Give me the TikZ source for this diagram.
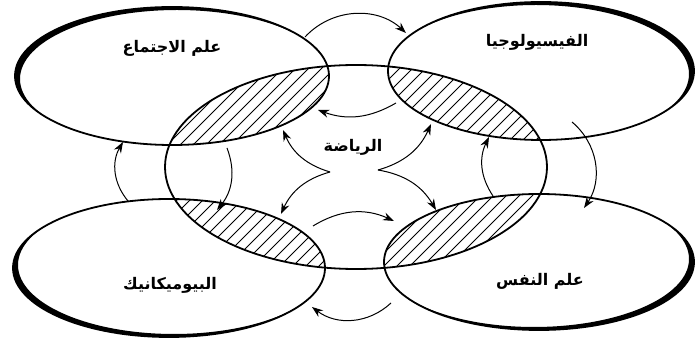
\documentclass[tikz,border=0pt]{standalone}
\usepackage{fontspec}
\newfontfamily\arabicfont[Script=Arabic]{DejaVu Sans}
\TeXXeTstate=1
\usetikzlibrary{arrows.meta}
\tikzset{
  campo/.style={line width=1.8pt},
  sombra/.style={fill=black, even odd rule},
  rayado/.style={line width=0.9pt},
  flecha/.style={line width=1pt, -{Stealth[length=11pt, width=8pt]}},
  etiqueta/.style={font=\arabicfont\bfseries\fontsize{16}{18}\selectfont}
}

\begin{document}
\begin{tikzpicture}[x=1pt, y=-1pt]
  \useasboundingbox (0,0) rectangle (696,344);

  % Sombras de los campos
  \foreach \cx/\cy/\rx/\ry/\dx/\dy in {172/76/157/69/5/3, 541/71/153/69/-5/3, 169/268/156/69/5/-3, 539/262/155/68/-5/-3}{
    \begin{scope}
      \clip (\cx,\cy) ellipse [x radius=\rx pt, y radius=\ry pt];
      \fill[sombra] (\cx,\cy) ellipse [x radius=\rx pt, y radius=\ry pt]
                    (\cx+\dx,\cy+\dy) ellipse [x radius=\rx pt, y radius=\ry pt];
    \end{scope}
  }

  % Zonas comunes con la rayada
  \foreach \cx/\cy/\rx/\ry in {172/76/157/69, 541/71/153/69, 169/268/156/69, 539/262/155/68}{
    \begin{scope}
      \clip (356,167) ellipse [x radius=191pt, y radius=102pt];
      \clip (\cx,\cy) ellipse [x radius=\rx pt, y radius=\ry pt];
      \foreach \k in {-344,-331,...,700} \draw[rayado] (\k,344) -- ++(344,-344);
    \end{scope}
  }

  % Contornos
  \draw[campo] (172,76) ellipse [x radius=157pt, y radius=69pt];
  \draw[campo] (541,71) ellipse [x radius=153pt, y radius=69pt];
  \draw[campo] (169,268) ellipse [x radius=156pt, y radius=69pt];
  \draw[campo] (539,262) ellipse [x radius=155pt, y radius=68pt];
  \draw[campo] (356,167) ellipse [x radius=191pt, y radius=102pt];

  % Textos
  \node (socio) [etiqueta] at (172,48) {\beginR علم الاجتماع\endR};
  \node (fisio) [etiqueta] at (537,42) {\beginR الفيسيولوجيا\endR};
  \node (biomec) [etiqueta] at (170,285) {\beginR البيوميكانيك\endR};
  \node (psico) [etiqueta] at (540,281) {\beginR علم النفس\endR};
  \node (deporte) [etiqueta] at (353,147) {\beginR الرياضة\endR};

  % Puntos de las flechas
  \coordinate (supI) at (305,37);   \coordinate (supF) at (406,33);
  \coordinate (medI) at (396,103);  \coordinate (medF) at (318,110);
  \coordinate (bajI) at (313,226);  \coordinate (bajF) at (394,221);
  \coordinate (infI) at (391,303);  \coordinate (infF) at (312,307);
  \coordinate (izqI) at (128,201);  \coordinate (izqF) at (123,142);
  \coordinate (izq2I) at (227,148); \coordinate (izq2F) at (217,210);
  \coordinate (derI) at (572,122);  \coordinate (derF) at (584,208);
  \coordinate (der2I) at (493,196); \coordinate (der2F) at (489,137);
  \coordinate (cusL) at (330,172);  \coordinate (cusR) at (378,170);
  \coordinate (hSI) at (283,130);   \coordinate (hII) at (281,214);
  \coordinate (hSD) at (431,124);   \coordinate (hID) at (436,210);

  % Flechas entre campos
  \draw[flecha] (supI) to[bend left=45] (supF);
  \draw[flecha] (medI) to[bend left=25] (medF);
  \draw[flecha] (bajI) to[bend left=28] (bajF);
  \draw[flecha] (infI) to[bend left=40] (infF);
  \draw[flecha] (izqI) to[bend left=35] (izqF);
  \draw[flecha] (izq2I) to[bend left=30] (izq2F);
  \draw[flecha] (derI) to[bend left=42] (derF);
  \draw[flecha] (der2I) to[bend left=30] (der2F);

  % Flechas desde la rayada central
  \draw[flecha] (cusL) to[bend left=25] (hSI);
  \draw[flecha] (cusL) to[bend right=25] (hII);
  \draw[flecha] (cusR) to[bend right=25] (hSD);
  \draw[flecha] (cusR) to[bend left=25] (hID);
\end{tikzpicture}
\end{document}
